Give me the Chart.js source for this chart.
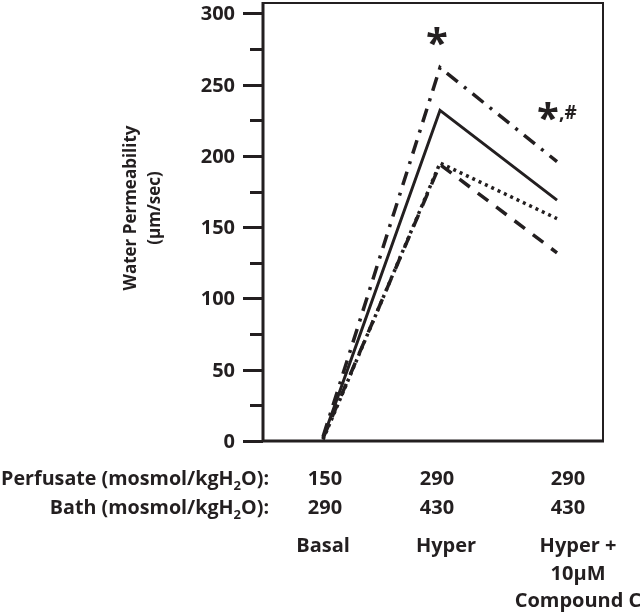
<!DOCTYPE html>
<html>
<head>
<meta charset="utf-8">
<script src="https://cdn.jsdelivr.net/npm/chart.js@4.4.1/dist/chart.umd.min.js"></script>
<style>
  html, body { margin: 0; padding: 0; background: #fff; }
  #wrap { width: 640px; height: 612px; position: relative; }
</style>
</head>
<body>
<div id="wrap"><canvas id="c" width="640" height="612"></canvas></div>
<script>
// ---- Data ----
const conditions = ['Basal', 'Hyper', 'Hyper + 10µM Compound C'];
const conditionX = [1, 2, 3];
const perfusate = ['150', '290', '290'];
const bath = ['290', '430', '430'];
const conditionLines = [['Basal'], ['Hyper'], ['Hyper +', '10µM', 'Compound C']];

const seriesSolid   = [2, 232, 169];
const seriesDashDot = [3, 262, 196];
const seriesDotted  = [1, 195, 156];
const seriesDashed  = [2, 194, 132];

const yTicks = [0, 50, 100, 150, 200, 250, 300];
const yMinorTicks = [25, 75, 125, 175, 225, 275];

const sigHyper = '*';
const sigCompound = ['*', ',#'];

const INK = '#231f20';
const FONT = '"Open Sans", "DejaVu Sans", sans-serif';
// layout-only pixel nudges for the text columns
const numShift = [2, -3, 11];
const nameShift = [0, 6, 21];

function pts(vals) { return vals.map((v, i) => ({ x: conditionX[i], y: v })); }

const decor = {
  id: 'decor',
  afterDraw(chart) {
    const ctx = chart.ctx;
    const ca = chart.chartArea;
    const xs = chart.scales.x, ys = chart.scales.y;
    ctx.save();
    // frame
    ctx.strokeStyle = INK;
    ctx.lineWidth = 2;
    ctx.beginPath();
    ctx.moveTo(ca.left, ca.top + 1); ctx.lineTo(ca.right, ca.top + 1); ctx.lineTo(ca.right, ca.bottom);
    ctx.stroke();
    ctx.lineWidth = 3;
    ctx.beginPath();
    ctx.moveTo(ca.left, ca.top); ctx.lineTo(ca.left, ca.bottom); ctx.lineTo(ca.right + 1, ca.bottom);
    ctx.stroke();
    // ticks + labels
    ctx.fillStyle = INK;
    ctx.font = 'bold 20px ' + FONT;
    ctx.textAlign = 'right';
    ctx.textBaseline = 'middle';
    yTicks.forEach(v => {
      const y = Math.round(ys.getPixelForValue(v)) + 0.5;
      ctx.beginPath(); ctx.moveTo(ca.left - 20, y); ctx.lineTo(ca.left, y); ctx.stroke();
      ctx.fillText(String(v), ca.left - 28, y + 1);
    });
    yMinorTicks.forEach(v => {
      const y = Math.round(ys.getPixelForValue(v)) + 0.5;
      ctx.beginPath(); ctx.moveTo(ca.left - 13, y); ctx.lineTo(ca.left, y); ctx.stroke();
    });
    // y title
    ctx.font = 'bold 17px ' + FONT;
    ctx.textAlign = 'center';
    ctx.textBaseline = 'middle';
    ctx.save();
    ctx.translate(131, 208); ctx.rotate(-Math.PI / 2);
    ctx.fillText('Water Permeability', 0, 0);
    ctx.restore();
    ctx.save();
    ctx.translate(155, 208); ctx.rotate(-Math.PI / 2);
    ctx.fillText('(µm/sec)', 0, 0);
    ctx.restore();

    // significance marks
    ctx.font = 'bold 40px ' + FONT;
    ctx.textAlign = 'center';
    ctx.textBaseline = 'alphabetic';
    ctx.fillText(sigHyper, xs.getPixelForValue(conditionX[1]) - 3, 57);
    const xc = xs.getPixelForValue(conditionX[2]) - 9;
    ctx.fillText(sigCompound[0], xc, 132);
    ctx.font = 'bold 19px ' + FONT;
    ctx.textAlign = 'left';
    ctx.fillText(sigCompound[1], xc + 11, 119);

    // bottom table
    function subLabel(prefix, right, y) {
      const a = prefix + ' (mosmol/kgH';
      const c = 'O):';
      ctx.font = 'bold 19.7px ' + FONT;
      const wa = ctx.measureText(a).width, wc = ctx.measureText(c).width;
      ctx.font = 'bold 13px ' + FONT;
      const wb = ctx.measureText('2').width;
      const x = right - (wa + wb + wc);
      ctx.textAlign = 'left';
      ctx.font = 'bold 19.7px ' + FONT;
      ctx.fillText(a, x, y);
      ctx.font = 'bold 13px ' + FONT;
      ctx.fillText('2', x + wa, y + 5);
      ctx.font = 'bold 19.7px ' + FONT;
      ctx.fillText(c, x + wa + wb, y);
    }
    ctx.textBaseline = 'alphabetic';
    subLabel('Perfusate', 269, 485);
    subLabel('Bath', 269, 514);
    ctx.font = 'bold 20px ' + FONT;
    ctx.textAlign = 'center';
    const nameBase = [552, 580, 607];
    conditionX.forEach((cx, i) => {
      const px = xs.getPixelForValue(cx);
      ctx.fillText(perfusate[i], px + numShift[i], 485);
      ctx.fillText(bath[i], px + numShift[i], 514);
      conditionLines[i].forEach((ln, j) => {
        ctx.fillText(ln, px + nameShift[i], nameBase[j]);
      });
    });
    ctx.restore();
  }
};

new Chart(document.getElementById('c'), {
  type: 'line',
  data: {
    datasets: [
      { label: 'Solid', data: pts(seriesSolid), borderColor: INK, borderWidth: 3, pointRadius: 0, borderDash: [] },
      { label: 'Dash-dot', data: pts(seriesDashDot), borderColor: INK, borderWidth: 3.5, pointRadius: 0, borderDash: [14, 8, 3, 8] },
      { label: 'Dotted', data: pts(seriesDotted), borderColor: INK, borderWidth: 3.5, pointRadius: 0, borderDash: [3, 4] },
      { label: 'Dashed', data: pts(seriesDashed), borderColor: INK, borderWidth: 3.5, pointRadius: 0, borderDash: [13, 10] }
    ]
  },
  options: {
    responsive: false,
    animation: false,
    devicePixelRatio: 1,
    layout: { padding: { left: 263, top: 2, right: 37, bottom: 171 } },
    plugins: { legend: { display: false }, tooltip: { enabled: false } },
    scales: {
      x: { type: 'linear', display: false, min: 0.487, max: 3.393 },
      y: { type: 'linear', display: false, min: 0, max: 308 }
    }
  },
  plugins: [decor]
});
</script>
</body>
</html>
